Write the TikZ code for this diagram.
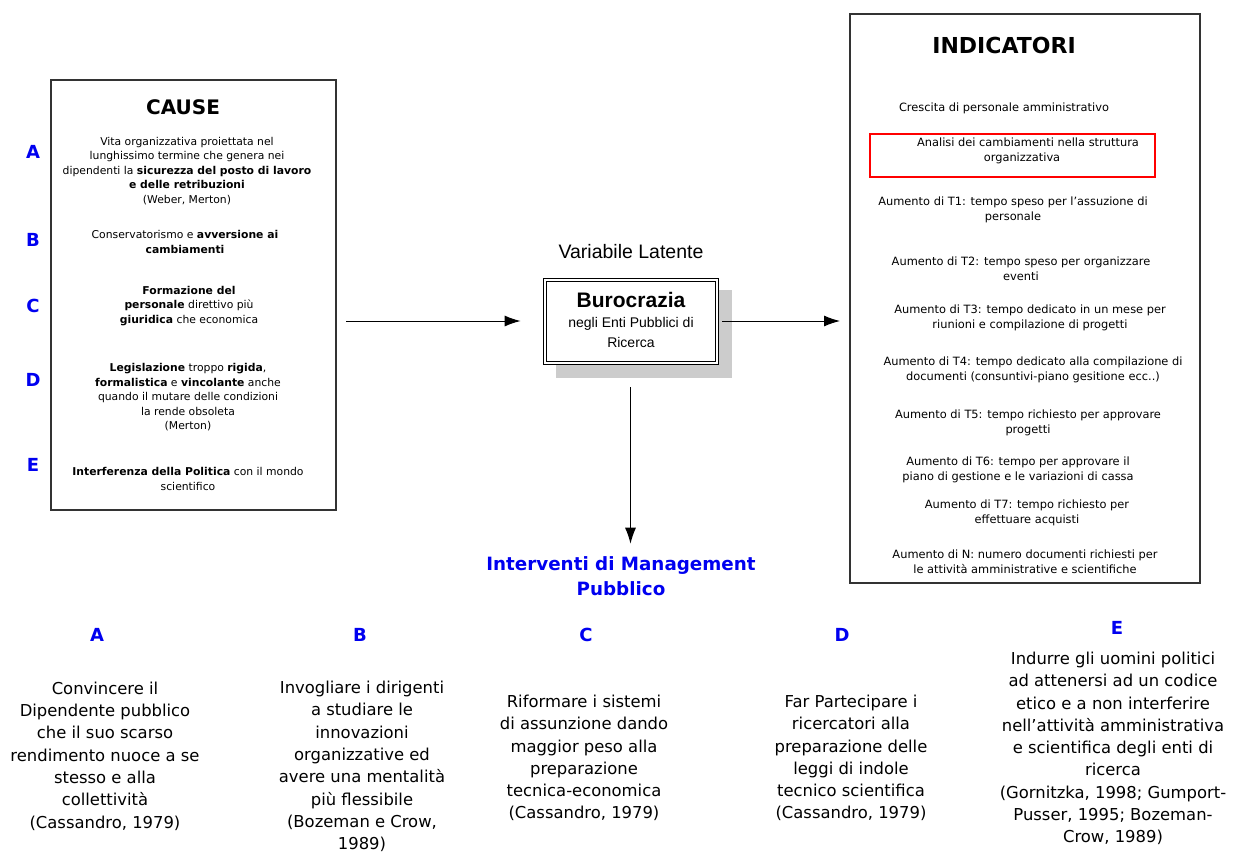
\documentclass[tikz,border=0pt]{standalone}
\usepackage{fontspec}
\setmainfont{DejaVu Sans}
\newfontfamily\arialfont{Liberation Sans}
\usetikzlibrary{arrows.meta}
\definecolor{lblue}{RGB}{0,0,240}
\definecolor{shadowgray}{RGB}{204,204,204}
\begin{document}
\begin{tikzpicture}[x=1pt,y=-1pt,
  panel/.style={draw=black!80,line width=1.1pt},
  arr/.style={-{Latex[length=16pt,width=11pt]},line width=1pt},
  cause/.style={font=\fontsize{10.8}{14.5}\selectfont,align=center,inner sep=0},
  ind/.style={font=\fontsize{11.4}{15}\selectfont,align=center,inner sep=0},
  letter/.style={font=\fontsize{18}{20}\selectfont\bfseries,text=lblue,inner sep=0},
  remedy/.style={font=\fontsize{16.4}{22.3}\selectfont,align=center,inner sep=0},
  title/.style={font=\fontsize{20}{22}\selectfont\bfseries,inner sep=0}]
\useasboundingbox (0,0) rectangle (1234,852);
\fill[white] (0,0) rectangle (1234,852);

% ---- causes panel
\draw[panel] (51,80) rectangle (336,510);
\coordinate (causeE) at (336,321);
\node[title] (causeT) at (183,107) {CAUSE};
\node[letter] (cA) at (33,152) {A};
\node[letter] (cB) at (33,240) {B};
\node[letter] (cC) at (33,306) {C};
\node[letter] (cD) at (33,380) {D};
\node[letter] (cE) at (33,465) {E};
\node[cause] (tA) at (187,171) {Vita organizzativa proiettata nel\\lunghissimo termine che genera nei\\dipendenti la \textbf{sicurezza del posto di lavoro}\\\textbf{e delle retribuzioni}\\(Weber, Merton)};
\node[cause] (tB) at (185,242) {Conservatorismo e \textbf{avversione ai}\\\textbf{cambiamenti}};
\node[cause] (tC) at (189,306) {\textbf{Formazione del}\\\textbf{personale} direttivo più\\\textbf{giuridica} che economica};
\node[cause] (tD) at (188,397.5) {\textbf{Legislazione} troppo \textbf{rigida},\\\textbf{formalistica} e \textbf{vincolante} anche\\quando il mutare delle condizioni\\la rende obsoleta\\(Merton)};
\node[cause] (tE) at (188,479) {\textbf{Interferenza della Politica} con il mondo\\scientifico};

% ---- latent variable
\node[font=\arialfont\fontsize{19.5}{22}\selectfont,inner sep=0] (latT) at (631,252) {Variabile Latente};
\fill[shadowgray] (556,290) rectangle (732,378);
\node[draw=black,line width=0.8pt,fill=white,minimum width=175pt,minimum height=86pt,inner sep=0] (buro) at (630.5,321) {};
\draw[line width=0.8pt] (546,281) rectangle (715,361);
\node[font=\arialfont\fontsize{21}{23}\selectfont\bfseries,inner sep=0] (buroT) at (631,300) {Burocrazia};
\node[font=\arialfont\fontsize{14}{19.5}\selectfont,align=center,inner sep=0] (buroS) at (631,332.5) {negli Enti Pubblici di\\Ricerca};

% ---- indicators panel
\draw[panel] (850,14) rectangle (1200,583);
\coordinate (indW) at (850,321);
\node[font=\fontsize{22}{24}\selectfont\bfseries,inner sep=0] (indT) at (1004,45) {INDICATORI};
\node[ind] (i0) at (1004,108) {Crescita di personale amministrativo};
\draw[red,line width=1.3pt] (870,134) rectangle (1155,177);
\node[ind] (i1) at (1022,151) {\hspace*{12pt}Analisi dei cambiamenti nella struttura\\organizzativa};
\node[ind] (i2) at (1013,210) {Aumento di T1: tempo speso per l’assuzione di\\personale};
\node[ind] (i3) at (1021,268.5) {Aumento di T2: tempo speso per organizzare\\eventi};
\node[ind] (i4) at (1030,317.5) {Aumento di T3: tempo dedicato in un mese per\\riunioni e compilazione di progetti};
\node[ind] (i5) at (1033,369.5) {Aumento di T4: tempo dedicato alla compilazione di\\documenti (consuntivi-piano gesitione ecc..)};
\node[ind] (i6) at (1028,422.5) {Aumento di T5: tempo richiesto per approvare\\progetti};
\node[ind] (i7) at (1018,469.5) {Aumento di T6: tempo per approvare il\\piano di gestione e le variazioni di cassa};
\node[ind] (i8) at (1027,513) {Aumento di T7: tempo richiesto per\\effettuare acquisti};
\node[ind] (i9) at (1025,561.5) {Aumento di N: numero documenti richiesti per\\le attività amministrative e scientifiche};

% ---- public management interventions
\node[font=\fontsize{18.3}{25}\selectfont\bfseries,text=lblue,align=center,inner sep=0] (mgmt) at (621,576.5) {Interventi di Management\\Pubblico};
\node[letter] (rA) at (97,635) {A};
\node[letter] (rB) at (360,635) {B};
\node[letter] (rC) at (586,635) {C};
\node[letter] (rD) at (842,635) {D};
\node[letter] (rE) at (1117,628) {E};
\node[remedy] (mA) at (105,756) {Convincere il\\Dipendente pubblico\\che il suo scarso\\rendimento nuoce a se\\stesso e alla\\collettività\\(Cassandro, 1979)};
\node[remedy] (mB) at (362,766.5) {Invogliare i dirigenti\\a studiare le\\innovazioni\\organizzative ed\\avere una mentalità\\più flessibile\\(Bozeman e Crow,\\1989)};
\node[remedy] (mC) at (584,758) {Riformare i sistemi\\di assunzione dando\\maggior peso alla\\preparazione\\tecnica-economica\\(Cassandro, 1979)};
\node[remedy] (mD) at (851,758) {Far Partecipare i\\ricercatori alla\\preparazione delle\\leggi di indole\\tecnico scientifica\\(Cassandro, 1979)};
\node[remedy] (mE) at (1113,748.5) {Indurre gli uomini politici\\ad attenersi ad un codice\\etico e a non interferire\\nell’attività amministrativa\\e scientifica degli enti di\\ricerca\\(Gornitzka, 1998; Gumport-\\Pusser, 1995; Bozeman-\\Crow, 1989)};

% ---- connectors
\draw[arr,shorten <=10pt,shorten >=22pt] (causeE) -- (buro.west);
\draw[arr,shorten <=4pt,shorten >=10pt] (buro.east) -- (indW);
\draw[arr,shorten <=23pt,shorten >=13pt] (buro.south) -- (buro.south |- mgmt.north);
\end{tikzpicture}
\end{document}
